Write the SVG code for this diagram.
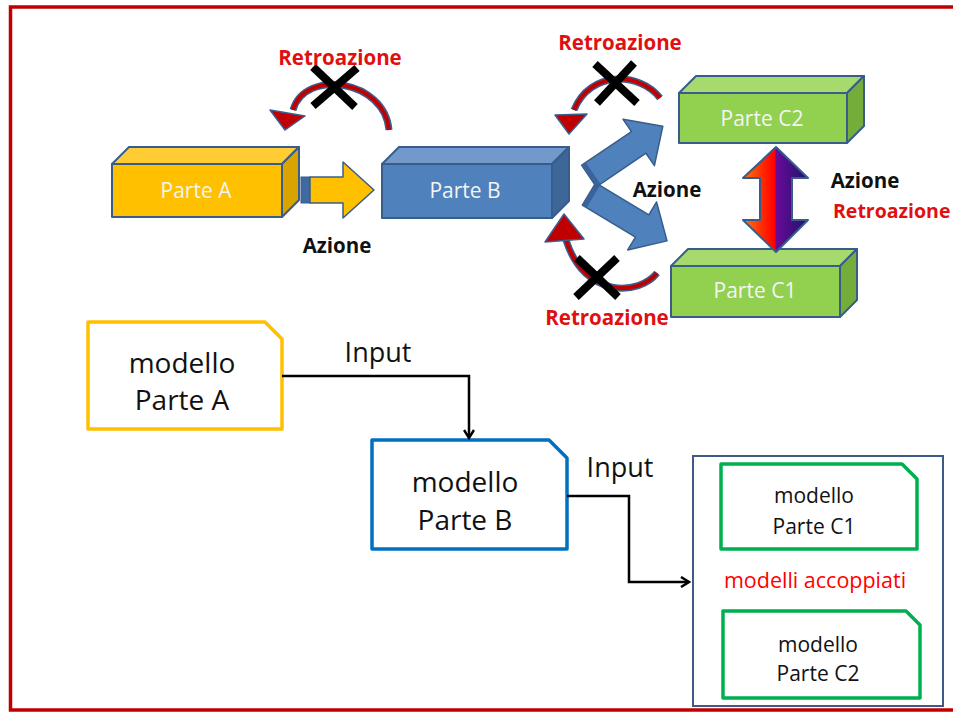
<svg xmlns="http://www.w3.org/2000/svg" width="953" height="712" viewBox="0 0 953 712">
  <style>
    .lbl { font-family: "Open Sans", "Liberation Sans", sans-serif; }
    .boxtxt { font-family: "Open Sans", "Liberation Sans", sans-serif; font-size: 21px; fill: #f4f4f4; text-anchor: middle; }
    .act { font-family: "Open Sans", "Liberation Sans", sans-serif; font-size: 20.5px; font-weight: bold; fill: #111; }
    .fb { font-family: "Open Sans", "Liberation Sans", sans-serif; font-size: 20.5px; font-weight: bold; fill: #e01010; }
    .edge3d { stroke: #385d8a; stroke-width: 2; stroke-linejoin: round; }
    .cross { stroke: #000; stroke-width: 8; }
    .arcOut { fill: none; stroke: #3a5f8f; stroke-width: 7; }
    .arcIn { fill: none; stroke: #c00000; stroke-width: 4; }
    .head { fill: #c00000; stroke: #3a5f8f; stroke-width: 1.5; stroke-linejoin: round; }
    .bigArrow { fill: #4f81bd; stroke: #385d8a; stroke-width: 1.5; stroke-linejoin: round; }
    .doc { fill: #fff; stroke-width: 3.5; stroke-linejoin: round; }
    .mtxt { font-family: "Open Sans", "Liberation Sans", sans-serif; fill: #111; text-anchor: middle; }
    .conn { fill: none; stroke: #000; stroke-width: 2.5; }
  </style>
  <defs>
    <marker id="openArrow" markerWidth="12" markerHeight="12" refX="9" refY="6" orient="auto" markerUnits="userSpaceOnUse">
      <path d="M1,1 L9,6 L1,11" fill="none" stroke="#000" stroke-width="2.5"/>
    </marker>
    <linearGradient id="coupleGrad" gradientUnits="userSpaceOnUse" x1="743" y1="0" x2="808" y2="0">
      <stop offset="0" stop-color="#ff7a10"/>
      <stop offset="0.3" stop-color="#ff2a00"/>
      <stop offset="0.49" stop-color="#ff0000"/>
      <stop offset="0.51" stop-color="#6a0a9a"/>
      <stop offset="1" stop-color="#1c1466"/>
    </linearGradient>
  </defs>

  <rect width="953" height="712" fill="#fff"/>
  <!-- outer frame -->
  <rect x="10.5" y="7" width="960" height="703" fill="none" stroke="#c00000" stroke-width="3.5"/>

  <!-- 3D parts -->
  <g id="parteA">
    <polygon class="edge3d" fill="#ffcd33" points="112,164 129,147 299,147 282,164"/>
    <polygon class="edge3d" fill="#d9a300" points="282,164 299,147 299,200 282,217"/>
    <rect class="edge3d" fill="#ffc000" x="112" y="164" width="170" height="53"/>
    <text class="boxtxt" x="196" y="198">Parte A</text>
  </g>
  <g id="parteB">
    <polygon class="edge3d" fill="#7199cc" points="382,164 399,147 569,147 552,164"/>
    <polygon class="edge3d" fill="#3d6699" points="552,164 569,147 569,201 552,218"/>
    <rect class="edge3d" fill="#4f81bd" x="382" y="164" width="170" height="54"/>
    <text class="boxtxt" x="465" y="198">Parte B</text>
  </g>
  <g id="parteC2">
    <polygon class="edge3d" fill="#a6da6d" points="679,93 696,76 864,76 847,93"/>
    <polygon class="edge3d" fill="#74ad3a" points="847,93 864,76 864,126 847,143"/>
    <rect class="edge3d" fill="#92d050" x="679" y="93" width="168" height="50"/>
    <text class="boxtxt" x="762" y="126">Parte C2</text>
  </g>
  <g id="parteC1">
    <polygon class="edge3d" fill="#a6da6d" points="671,266 688,249 857,249 840,266"/>
    <polygon class="edge3d" fill="#74ad3a" points="840,266 857,249 857,300 840,317"/>
    <rect class="edge3d" fill="#92d050" x="671" y="266" width="169" height="51"/>
    <text class="boxtxt" x="755" y="298">Parte C1</text>
  </g>

  <!-- model documents -->
  <g id="modelloA">
    <path class="doc" stroke="#ffc000" d="M88,322 H265 L282,339 V429 H88 Z"/>
    <text class="mtxt" font-size="28" x="182" y="373">modello</text>
    <text class="mtxt" font-size="28" x="182" y="410">Parte A</text>
  </g>
  <g id="modelloB">
    <path class="doc" stroke="#0070c0" d="M372,440 H549 L567,458 V549 H372 Z"/>
    <text class="mtxt" font-size="28" x="465" y="492">modello</text>
    <text class="mtxt" font-size="28" x="465" y="530">Parte B</text>
  </g>
  <g id="accoppiati">
    <rect x="693" y="456" width="250" height="250" fill="#fff" stroke="#3f5a86" stroke-width="2"/>
    <text class="lbl" x="815" y="588" font-size="21.5" fill="#ff0000" text-anchor="middle">modelli accoppiati</text>
  </g>
  <g id="modelloC1">
    <path class="doc" stroke="#00b050" d="M721,464 H902 L917,479 V549 H721 Z"/>
    <text class="mtxt" font-size="21" x="814" y="503">modello</text>
    <text class="mtxt" font-size="21" x="814" y="534">Parte C1</text>
  </g>
  <g id="modelloC2">
    <path class="doc" stroke="#00b050" d="M723,611 H906 L920,625 V698 H723 Z"/>
    <text class="mtxt" font-size="21" x="818" y="652">modello</text>
    <text class="mtxt" font-size="21" x="818" y="681">Parte C2</text>
  </g>

  <!-- connectors -->
  <g id="connectors">
    <!-- action A to B -->
    <rect x="301" y="177" width="9" height="26" fill="#3f6aa0" stroke="#385d8a" stroke-width="1"/>
    <polygon class="bigArrow" points="310,177 343,177 343,162 374,190 343,218 343,203 310,203" style="fill:#ffc000"/>
    <text class="act" x="337" y="253" text-anchor="middle">Azione</text>

    <!-- action B to C1 / C2 -->
    <g transform="translate(589,194) rotate(31)">
      <polygon class="bigArrow" points="0,-13 62,-13 62,-28 91,0 62,28 62,13 0,13"/>
      <rect x="0" y="-13" width="5" height="26" fill="#3c6399"/>
    </g>
    <g transform="translate(589,176) rotate(-34)">
      <polygon class="bigArrow" points="0,-13 60,-13 60,-28 89,0 60,28 60,13 0,13"/>
      <rect x="0" y="-13" width="5" height="26" fill="#3c6399"/>
    </g>
    <text class="act" x="667" y="197" text-anchor="middle">Azione</text>

    <!-- coupling C1 and C2 -->
    <polygon fill="url(#coupleGrad)" stroke="#385d8a" stroke-width="2" stroke-linejoin="round"
      points="776,147 808,178 792,178 792,220 808,220 776,252 743,220 760,220 760,178 743,178"/>
    <text class="act" x="865" y="188" text-anchor="middle">Azione</text>
    <text class="fb" x="833" y="218" style="font-size:19.5px">Retroazione</text>

    <!-- blocked feedback B to A -->
    <path class="arcOut" d="M389,130 C385,80 305,68 293,110"/>
    <path class="arcIn" d="M389,130 C385,80 305,68 293,110"/>
    <polygon class="head" points="270,110 305,116 285,130"/>
    <line class="cross" x1="313" y1="67" x2="355" y2="107"/>
    <line class="cross" x1="357" y1="68" x2="313" y2="106"/>
    <text class="fb" x="340" y="65" text-anchor="middle">Retroazione</text>

    <!-- blocked feedback C2 to B -->
    <path class="arcOut" d="M660,98 C640,72 590,70 574,110"/>
    <path class="arcIn" d="M660,98 C640,72 590,70 574,110"/>
    <polygon class="head" points="555,115 587,114 569,134"/>
    <line class="cross" x1="595" y1="64" x2="637" y2="103"/>
    <line class="cross" x1="634" y1="63" x2="597" y2="103"/>
    <text class="fb" x="620" y="50" text-anchor="middle">Retroazione</text>

    <!-- blocked feedback C1 to B -->
    <path class="arcOut" d="M657,273 C640,295 585,300 566,240"/>
    <path class="arcIn" d="M657,273 C640,295 585,300 566,240"/>
    <polygon class="head" points="545,242 584,239 564,214"/>
    <line class="cross" x1="577" y1="258" x2="618" y2="297"/>
    <line class="cross" x1="617" y1="258" x2="576" y2="297"/>
    <text class="fb" x="607" y="325" text-anchor="middle">Retroazione</text>

    <!-- model data flow -->
    <path class="conn" d="M282,376 H469 V438" marker-end="url(#openArrow)"/>
    <text class="mtxt" font-size="27" x="378" y="362">Input</text>
    <path class="conn" d="M567,496 H629 V582 H689" marker-end="url(#openArrow)"/>
    <text class="mtxt" font-size="27" x="620" y="477">Input</text>
  </g>
</svg>
